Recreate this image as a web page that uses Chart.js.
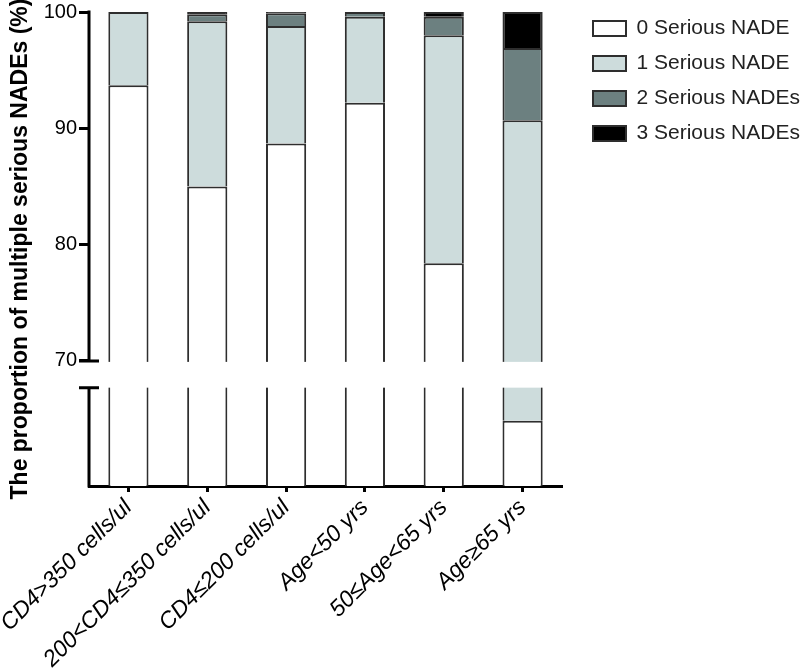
<!DOCTYPE html>
<html>
<head>
<meta charset="utf-8">
<script src="https://cdn.jsdelivr.net/npm/chart.js@4.4.1/dist/chart.umd.min.js"></script>
<style>
  html, body { margin: 0; padding: 0; background: #fff; }
  #wrap { width: 800px; height: 669px; position: relative; }
</style>
</head>
<body>
<div id="wrap"><canvas id="chart"></canvas></div>
<script>
// categories and series (percent of patients)
const categories = ['CD4>350 cells/ul', '200<CD4≤350 cells/ul', 'CD4≤200 cells/ul', 'Age<50 yrs', '50≤Age<65 yrs', 'Age≥65 yrs'];
const zeroNade  = [93.7, 85.0, 88.7, 92.2, 78.4, 46.5];
const oneNade   = [6.3, 14.2, 10.1, 7.4, 19.6, 44.2];
const twoNade   = [0, 0.6, 1.1, 0.4, 1.6, 6.2];
const threeNade = [0, 0.2, 0.1, 0, 0.4, 3.1];
const seriesNames = ['0 Serious NADE', '1 Serious NADE', '2 Serious NADEs', '3 Serious NADEs'];
const yTicks = [70, 80, 90, 100];
const BREAK_AT = 70;

// share of axis height used by each part of the broken axis
const UPPER_FRAC = 0.736;
const LOWER_FRAC = 0.2075;
const LEGEND_W = 221;
const LEGEND_SHIFT = 8;

const FONT = "'Liberation Sans', Arial, sans-serif";
const colors = ['#ffffff', '#cddcdc', '#6c8080', '#000000'];

// linear scale with a gap: BREAK_AT..max on top, min..BREAK_AT squeezed below
class BrokenScale extends Chart.LinearScale {
    static id = 'broken';
    static defaults = Chart.LinearScale.defaults;

    lowerTop() {
        return this.bottom - (this.bottom - this.top) * LOWER_FRAC;
    }

    getPixelForValue(value) {
        if (value === null || value === undefined) return NaN;
        const h = this.bottom - this.top;
        if (value >= BREAK_AT) {
            return this.top + (this.max - value) / (this.max - BREAK_AT) * h * UPPER_FRAC;
        }
        return this.bottom - (value - this.min) / (BREAK_AT - this.min) * h * LOWER_FRAC;
    }

    getValueForPixel(pixel) {
        const h = this.bottom - this.top;
        const breakPx = this.top + h * UPPER_FRAC;
        if (pixel <= breakPx) {
            return this.max - (pixel - this.top) / (h * UPPER_FRAC) * (this.max - BREAK_AT);
        }
        return this.min + (this.bottom - pixel) / (h * LOWER_FRAC) * (BREAK_AT - this.min);
    }
}
Chart.register(BrokenScale);

// layout caps the legend at a share of the width; give it its full room
const legendWidth = {
    id: 'legendWidth',
    beforeLayout(chart) {
        const lg = chart.legend;
        if (lg && !lg._widened) {
            const fit = lg.fit;
            const draw = lg.draw;
            lg.fit = function () {
                fit.call(this);
                this.width = LEGEND_W;
            };
            lg.draw = function () {
                this.ctx.save();
                this.ctx.translate(0, LEGEND_SHIFT);
                draw.call(this);
                this.ctx.restore();
            };
            lg._widened = true;
        }
    }
};

// white band over the break, then the split y axis with its caps
const axisBreak = {
    id: 'axisBreak',
    afterDatasetsDraw(chart) {
        const { ctx, chartArea } = chart;
        const y = chart.scales.y;
        const yBreak = y.getPixelForValue(BREAK_AT);
        const lowTop = y.lowerTop();
        const x = chartArea.left;
        ctx.save();
        ctx.fillStyle = '#ffffff';
        ctx.fillRect(x + 2, yBreak + 1, chartArea.right - x, lowTop - yBreak - 1);

        ctx.strokeStyle = '#000';
        ctx.lineWidth = 3;
        ctx.lineCap = 'butt';
        ctx.beginPath();
        ctx.moveTo(x, y.top - 1.5);
        ctx.lineTo(x, yBreak + 1.5);
        ctx.moveTo(x - 10, yBreak);
        ctx.lineTo(x + 10, yBreak);
        ctx.moveTo(x - 10, lowTop);
        ctx.lineTo(x + 10, lowTop);
        ctx.moveTo(x, lowTop - 1.5);
        ctx.lineTo(x, y.bottom + 1.5);
        ctx.stroke();
        ctx.restore();
    }
};

const seriesData = [zeroNade, oneNade, twoNade, threeNade];
const datasets = seriesData.map((d, i) => ({
    label: seriesNames[i],
    data: d,
    backgroundColor: colors[i],
    borderColor: '#2e2e2e',
    borderWidth: 2,
    categoryPercentage: 0.51,
    barPercentage: 1
}));

new Chart(document.getElementById('chart'), {
    type: 'bar',
    data: { labels: categories, datasets: datasets },
    plugins: [legendWidth, axisBreak],
    options: {
        responsive: true,
        maintainAspectRatio: false,
        animation: false,
        layout: { padding: { left: 5, top: -4, bottom: 0, right: 0 } },
        plugins: {
            tooltip: { enabled: false },
            legend: {
                position: 'right',
                align: 'start',
                labels: {
                    boxWidth: 33,
                    boxHeight: 15,
                    padding: 14,
                    color: '#222',
                    font: { family: FONT, size: 21 }
                }
            }
        },
        scales: {
            x: {
                stacked: true,
                afterFit: (scale) => {
                    scale.paddingLeft = 0;
                    scale.height -= 6;
                },
                grid: {
                    offset: false,
                    drawOnChartArea: false,
                    tickLength: 6,
                    tickWidth: 3,
                    color: '#000'
                },
                border: { color: '#000', width: 3 },
                ticks: {
                    minRotation: 45,
                    maxRotation: 45,
                    padding: 2,
                    color: '#000',
                    font: { family: FONT, size: 23, style: 'italic' }
                }
            },
            y: {
                type: 'broken',
                stacked: true,
                min: 0,
                max: 100,
                afterBuildTicks: (scale) => {
                    scale.ticks = yTicks.map(v => ({ value: v }));
                },
                afterFit: (scale) => { scale.width = 84; },
                grid: {
                    drawOnChartArea: false,
                    tickLength: 10,
                    tickWidth: 3,
                    color: '#000'
                },
                border: { display: false },
                ticks: {
                    padding: 2,
                    color: '#000',
                    font: { family: FONT, size: 20, lineHeight: 1 }
                },
                title: {
                    display: true,
                    text: 'The proportion of multiple serious NADEs (%)',
                    color: '#000',
                    font: { family: FONT, size: 23, weight: 'bold' },
                    padding: { top: 2, bottom: 4 }
                }
            },
            gutter: {
                type: 'linear',
                position: 'right',
                grid: { display: false },
                border: { display: false },
                ticks: { display: false },
                afterFit: (scale) => { scale.width = 17; }
            }
        }
    }
});
</script>
</body>
</html>
